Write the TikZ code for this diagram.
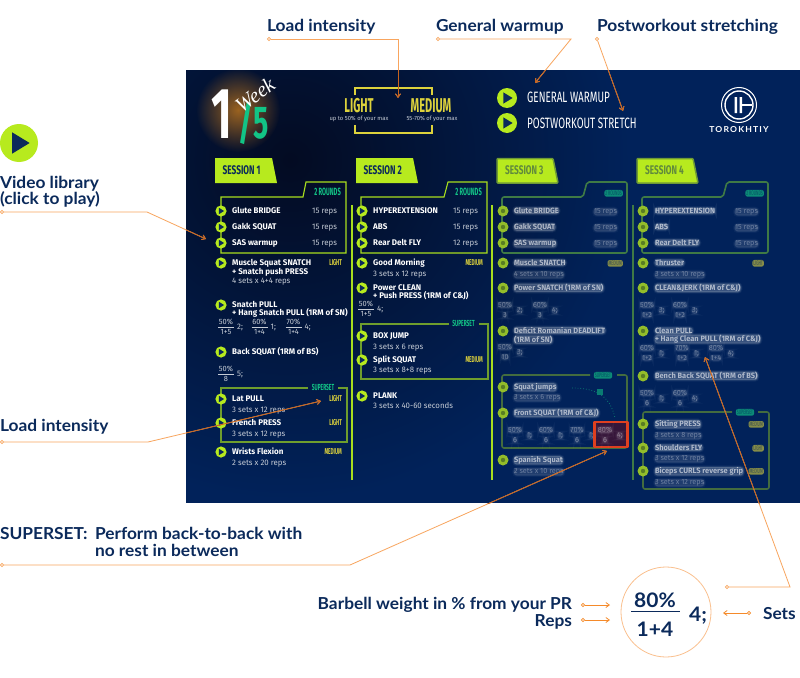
\documentclass[tikz,border=0pt]{standalone}
\usepackage{fontspec}
\setmainfont[FakeStretch=1.05]{Lato}
\newfontfamily\din[FakeStretch=0.98]{Fira Sans}
\newfontfamily\dinn[FakeStretch=0.66]{Fira Sans}
\newfontfamily\dinx[FakeStretch=0.55]{Fira Sans}
\newfontfamily\dinw[FakeStretch=0.62]{Fira Sans}
\newfontfamily\wk{Liberation Serif}
\usetikzlibrary{arrows.meta,fadings,calc}
\tikzfading[name=myglow,inner color=transparent!0,outer color=transparent!100]
\definecolor{navy}{HTML}{0B2A5B}
\definecolor{bgmain}{HTML}{01225A}
\definecolor{bgdark}{HTML}{030B22}
\definecolor{limeb}{HTML}{B7EA1E}
\definecolor{limel}{HTML}{A8DE1E}
\definecolor{oliveb}{HTML}{6F9E2D}
\definecolor{dimline}{HTML}{3F7A45}
\definecolor{dimbtn}{HTML}{93BD2A}
\definecolor{grn}{HTML}{12C486}
\definecolor{yel}{HTML}{DDD23C}
\definecolor{subt}{HTML}{C6CCD6}
\definecolor{orl}{HTML}{F8A55E}
\definecolor{ord}{HTML}{C8641E}
\definecolor{orb}{HTML}{F58A2A}
\definecolor{glowc}{HTML}{9A6220}
\newcommand\fsz[1]{\fontsize{#1}{#1}\selectfont}
\newcounter{nid}
\tikzset{
 lbl/.style={inner sep=0,outer sep=0,yshift=-4pt,text=navy,font=\fsz{16.5}\bfseries},
 lblb/.style={inner sep=0,outer sep=0,yshift=-2.5pt,text=navy,font=\fsz{20}\bfseries},
 tname/.style={inner sep=0,anchor=mid west,text=white,font=\din\fsz{8.2}\bfseries},
 tsub/.style={inner sep=0,anchor=mid west,text=subt,font=\din\fsz{8}},
 tload/.style={inner sep=0,anchor=mid east,text=yel,font=\dinx\fsz{8.5}\bfseries},
 tsup/.style={inner sep=0,anchor=mid,text=grn,font=\dinx\fsz{8.8}\bfseries},
 tfr/.style={inner sep=0,anchor=mid,text=subt,font=\din\fsz{7.6}},
 blurbase/.style={inner sep=.2pt,anchor=mid west,text=white,rounded corners=3pt},
 blur/.style={blurbase,preaction={draw=white,draw opacity=.05,line width=3.4pt},text opacity=.6,fill=white,fill opacity=.2,draw=white,draw opacity=.1,line width=1.6pt,font=\din\fsz{7.6}\bfseries},
 blursub/.style={blurbase,preaction={draw=white,draw opacity=.03,line width=3.4pt},text opacity=.35,fill=white,fill opacity=.12,draw=white,draw opacity=.06,line width=1.6pt,font=\din\fsz{7.4}},
 blurfr/.style={blursub,anchor=mid},
 chip/.style={inner sep=1pt,anchor=mid east,text=bgmain,rounded corners=2pt,text opacity=.6,font=\dinx\fsz{6.5}},
 rline/.style={limel,line width=1.1pt},
 sline/.style={oliveb,line width=1.1pt},
 dline/.style={dimline,line width=1.6pt,rounded corners=2pt,line join=round},
 conn/.style={line width=.8pt,-{Straight Barb[length=3.5pt,width=5pt]}},
 sdot/.style={circle,draw=orl,fill=white,line width=.7pt,inner sep=0,minimum size=3.4pt},
 sesst/.style={inner sep=0,anchor=mid west,text=navy,font=\dinn\fsz{12.5}\bfseries},
}
% play button
\newcommand\pb[3]{\stepcounter{nid}\node[circle,fill=limeb,inner sep=0,minimum size=#3*2pt] (pb\thenid) at (#1,#2) {};
 \fill[navy] ({#1-0.36*#3},{#2-0.56*#3}) -- ({#1+0.56*#3},{#2}) -- ({#1-0.36*#3},{#2+0.56*#3}) -- cycle;}
\newcommand\dpb[2]{\stepcounter{nid}\node[circle,fill=dimbtn,inner sep=0,minimum size=11pt] (pb\thenid) at (#1,#2) {};
 \fill[oliveb!80!black] (#1,#2) circle (2.2);}
\newcommand\tx[4]{\stepcounter{nid}\node[#1] (t\thenid) at (#2,#3) {#4};}
% sharp fraction
\newcommand\fr[5]{\stepcounter{nid}\node[tfr] (fa\thenid) at (#1,{#2-5}) {#3};\node[tfr] (fb\thenid) at (#1,{#2+5}) {#4};
 \draw[subt,line width=.5pt] ({#1-8},#2) -- ({#1+8},#2);
 \node[tfr,anchor=mid west,font=\din\fsz{8}] (fc\thenid) at ({#1+11},#2) {#5};}
% blurred fraction
\newcommand\bfr[5]{\stepcounter{nid}\node[blurfr] (fa\thenid) at (#1,{#2-5}) {#3};\node[blurfr] (fb\thenid) at (#1,{#2+5}) {#4};
 \node[blursub] (fc\thenid) at ({#1+11},#2) {#5};}
\newcommand\connset[1]{%
 \draw[conn,#1] (s1) -- (k1) -- (e1);
 \draw[conn,#1] (s2) -- (k2) -- (e2);
 \draw[conn,#1] (s3) -- (e3);
 \draw[conn,#1] (s4) -- (k4) -- (e4);
 \draw[conn,#1] (s5) -- (k5) -- (e5);
 \draw[conn,#1] (s6) -- (k6) -- (e6);
 \draw[conn,#1] (s7) -- (k7) -- (e7);}
\begin{document}
\begin{tikzpicture}[x=1pt,y=-1pt]
\useasboundingbox (0,0) rectangle (800,677);
\fill[white] (0,0) rectangle (800,677);
% image panel
\begin{scope}
 \clip (186,70) rectangle (800,503);
 \fill[bgmain] (186,70) rectangle (800,503);
 \shade[inner color=bgdark,outer color=bgmain] (290,160) circle (340);
 \fill[glowc,path fading=myglow] (238,110) ellipse (42 and 42);
\end{scope}
% week mark
\tx{inner sep=0,text=white,font=\dinw\fsz{72}\bfseries}{221.5}{114}{1}
\tx{inner sep=0,text=grn,font=\dinw\fsz{46}\bfseries}{245.5}{123}{/}
\tx{inner sep=0,text=grn,font=\dinw\fsz{46}\bfseries}{261.5}{123}{5}
\tx{inner sep=0,text=white,rotate=37,font=\wk\itshape\fsz{21}}{255}{95}{Week}
% load brackets
\draw[yel,line width=1.1pt] (355,95) -- (355,88) -- (432,88) -- (432,95);
\draw[yel,line width=1.1pt] (355,125) -- (355,133) -- (432,133) -- (432,125);
\tx{inner sep=0,text=yel,font=\dinx\fsz{20}\bfseries}{359}{106}{LIGHT}
\tx{inner sep=0,text=yel,font=\dinx\fsz{20}\bfseries}{431}{106}{MEDIUM}
\tx{inner sep=0,text=subt,font=\din\fsz{5.9}}{359}{119}{up to 50\% of your max}
\tx{inner sep=0,text=subt,font=\din\fsz{5.9}}{432}{119}{55-70\% of your max}
% warmup
\pb{507}{98}{10}\pb{507}{123}{10}
\tx{inner sep=0,yshift=-1.5pt,anchor=mid west,text=white,font=\dinn\fsz{15}}{527}{98}{GENERAL WARMUP}
\tx{inner sep=0,yshift=-1.5pt,anchor=mid west,text=white,font=\dinn\fsz{15}}{527}{124.5}{POSTWORKOUT STRETCH}
% logo
\node[circle,draw=white,line width=1pt,inner sep=0,minimum size=35pt] (logoa) at (739,105) {};
\node[circle,draw=white,line width=1.4pt,inner sep=0,minimum size=28pt] (logob) at (739,105) {};
\fill[white] (734.5,97) rectangle (737,113) (739.5,97) rectangle (742,113);
\fill[white] (742,104.2) rectangle (752,105.8);
\tx{inner sep=0,text=white,font=\fsz{8.2}\bfseries}{739}{130}{\addfontfeature{LetterSpace=14}TOROKHTIY}
% session banners
\foreach \x/\n in {215/1,356/2}{
 \fill[limeb] (\x,158) -- ({\x+57},158) -- ({\x+62},183) -- (\x,183) -- cycle;
 \tx{sesst}{\x+7.5}{171.5}{SESSION \n}}
\foreach \x/\n in {497/3,637/4}{
 \fill[limeb,draw=limeb!60!bgmain,line width=1.5pt,rounded corners=1pt] (\x,158.5) -- ({\x+56},158.5) -- ({\x+61},183) -- (\x,183) -- cycle;
 \tx{sesst,text opacity=.5}{\x+8}{171.5}{SESSION \n}}
% column rules
\draw[rline] (352,205) -- (352,480);
\draw[rline] (492,205) -- (492,480);
\draw[dline] (633,205) -- (633,480);
% rounds boxes
\draw[rline] (221,197) -- (303,197) -- (306,182) -- (346,182) -- (346,253) -- (221,253) -- cycle;
\draw[rline] (361,197) -- (444,197) -- (448,182) -- (487,182) -- (487,253) -- (361,253) -- cycle;
\draw[dline] (502,197) -- (583,197) -- (587,182) -- (627,182) -- (627,253) -- (502,253) -- cycle;
\draw[dline] (642,197) -- (723,197) -- (727,182) -- (768,182) -- (768,253) -- (642,253) -- cycle;
\tx{tsup,anchor=mid east,font=\dinx\fsz{10.5}\bfseries}{341}{193}{2 ROUNDS}
\tx{tsup,anchor=mid east,font=\dinx\fsz{10.5}\bfseries}{482}{193}{2 ROUNDS}
\tx{chip,fill=grn!65!bgmain}{623}{193}{2 ROUNDS}
\tx{chip,fill=grn!65!bgmain}{764}{193}{2 ROUNDS}
% superset boxes
\draw[sline] (308,388) -- (221,388) -- (221,442) -- (347,442) -- (347,388) -- (338,388);
\tx{tsup}{323}{388}{SUPERSET}
\draw[sline] (449,324) -- (361,324) -- (361,379) -- (488,379) -- (488,324) -- (479,324);
\tx{tsup}{463.5}{324}{SUPERSET}
\draw[dline,oliveb!60!bgmain] (590,375) -- (502,375) -- (502,448) -- (627,448) -- (627,375) -- (617,375);
\tx{chip,fill=grn!65!bgmain,anchor=mid}{603}{375}{SUPERSET}
\draw[dline,oliveb!60!bgmain] (732,412) -- (643,412) -- (643,489) -- (769,489) -- (769,412) -- (758,412);
\tx{chip,fill=grn!65!bgmain,anchor=mid}{745}{412}{SUPERSET}
% session 1
\foreach \y in {211,227,243,263,305,352,399,423,452}{\pb{221}{\y}{5.6}}
\tx{tname}{232}{211}{Glute BRIDGE}\tx{tsub}{312}{211}{15 reps}
\tx{tname}{232}{227}{Gakk SQUAT}\tx{tsub}{312}{227}{15 reps}
\tx{tname}{232}{243}{SAS warmup}\tx{tsub}{312}{243}{15 reps}
\tx{tname}{232}{263}{Muscle Squat SNATCH}\tx{tload}{342}{263}{LIGHT}
\tx{tname}{232}{272}{+ Snatch push PRESS}
\tx{tsub}{232}{281}{4 sets x 4+4 reps}
\tx{tname}{232}{305}{Snatch PULL}
\tx{tname}{232}{313}{+ Hang Snatch PULL (1RM of SN)}
\fr{226}{327}{50\%}{1+5}{2;}
\fr{259.5}{327}{60\%}{1+4}{1;}
\fr{293.5}{327}{70\%}{1+4}{4;}
\tx{tname}{232}{352}{Back SQUAT (1RM of BS)}
\fr{226}{374}{50\%}{8}{5;}
\tx{tname}{232}{399}{Lat PULL}\tx{tload}{342}{399}{LIGHT}
\tx{tsub}{232}{410}{3 sets x 12 reps}
\tx{tname}{232}{423}{French PRESS}\tx{tload}{342}{423}{LIGHT}
\tx{tsub}{232}{434}{3 sets x 12 reps}
\tx{tname}{232}{452}{Wrists Flexion}\tx{tload}{342}{452}{MEDIUM}
\tx{tsub}{232}{463}{2 sets x 20 reps}
% session 2
\foreach \y in {211,227,243,263,288,336,360,396}{\pb{362}{\y}{5.6}}
\tx{tname}{373}{211}{HYPEREXTENSION}\tx{tsub}{453}{211}{15 reps}
\tx{tname}{373}{227}{ABS}\tx{tsub}{453}{227}{15 reps}
\tx{tname}{373}{243}{Rear Delt FLY}\tx{tsub}{453}{243}{12 reps}
\tx{tname}{373}{263}{Good Morning}\tx{tload}{483}{263}{MEDIUM}
\tx{tsub}{373}{274}{3 sets x 12 reps}
\tx{tname}{373}{288}{Power CLEAN}
\tx{tname}{373}{296}{+ Push PRESS (1RM of C\&J)}
\fr{366}{309}{50\%}{1+5}{4;}
\tx{tname}{373}{336}{BOX JUMP}
\tx{tsub}{373}{347}{3 sets x 6 reps}
\tx{tname}{373}{360}{Split SQUAT}\tx{tload}{483}{360}{MEDIUM}
\tx{tsub}{373}{370}{3 sets x 8+8 reps}
\tx{tname}{373}{396}{PLANK}
\tx{tsub}{373}{406}{3 sets x 40-60 seconds}
% session 3 (blurred)
\foreach \y in {211,227,243,263,288,331,387,413,460}{\dpb{503}{\y}}
\tx{blur}{513}{211}{Glute BRIDGE}\tx{blursub}{593}{211}{15 reps}
\tx{blur}{513}{227}{Gakk SQUAT}\tx{blursub}{593}{227}{15 reps}
\tx{blur}{513}{243}{SAS warmup}\tx{blursub}{593}{243}{15 reps}
\tx{blur}{513}{263}{Muscle SNATCH}\tx{chip,fill=yel!60!bgmain}{623}{263}{MEDIUM}
\tx{blursub}{513}{274}{4 sets x 10 reps}
\tx{blur}{513}{288}{Power SNATCH (1RM of SN)}
\bfr{505}{310}{50\%}{3}{2;}
\bfr{540}{310}{60\%}{3}{4;}
\tx{blur}{513}{331}{Deficit Romanian DEADLIFT}
\tx{blur}{513}{340}{(1RM of SN)}
\bfr{505}{352}{50\%}{10}{3;}
\tx{blur}{513}{387}{Squat jumps}
\tx{blursub}{513}{397}{3 sets x 6 reps}
\tx{blur}{513}{413}{Front SQUAT (1RM of C\&J)}
\bfr{515}{435}{50\%}{6}{1;}
\bfr{546}{435}{60\%}{6}{1;}
\bfr{577}{435}{70\%}{6}{1;}
\tx{blur}{513}{460}{Spanish Squat}
\tx{blursub}{513}{471}{2 sets x 10 reps}
% red highlight and curve
\fill[red!60!black,fill opacity=.35] (594,421) rectangle (628,447);
\draw[red!50!brown,line width=2.6pt,line join=round] (594.5,422) rectangle (627.5,447);
\bfr{605}{435}{80\%}{6}{4;}
\draw[grn!55!bgmain,line width=.8pt,dotted] (572,388) .. controls (595,388) and (610,395) .. (615,418);
\fill[grn!55!bgmain] (597,389) rectangle (603,395);
% session 4 (blurred)
\foreach \y in {211,227,243,263,288,331,376,424,448,471}{\dpb{643}{\y}}
\tx{blur}{654}{211}{HYPEREXTENSION}\tx{blursub}{734}{211}{15 reps}
\tx{blur}{654}{227}{ABS}\tx{blursub}{734}{227}{15 reps}
\tx{blur}{654}{243}{Rear Delt FLY}\tx{blursub}{734}{243}{15 reps}
\tx{blur}{654}{263}{Thruster}\tx{chip,fill=yel!60!bgmain}{764}{263}{LIGHT}
\tx{blursub}{654}{274}{3 sets x 10 reps}
\tx{blur}{654}{288}{CLEAN\&JERK (1RM of C\&J)}
\bfr{647}{310}{50\%}{1+2}{3;}
\bfr{680}{310}{60\%}{1+2}{3;}
\tx{blur}{654}{331}{Clean PULL}
\tx{blur}{654}{339}{+ Hang Clean PULL (1RM of C\&J)}
\bfr{647}{353}{60\%}{1+2}{1;}
\bfr{682}{353}{70\%}{1+2}{1;}
\bfr{716}{353}{80\%}{1+4}{4;}
\tx{blur}{654}{376}{Bench Back SQUAT (1RM of BS)}
\bfr{647}{398}{50\%}{6}{1;}
\bfr{680}{398}{60\%}{6}{4;}
\tx{blur}{654}{424}{Sitting PRESS}\tx{chip,fill=yel!60!bgmain}{764}{424}{MEDIUM}
\tx{blursub}{654}{435}{3 sets x 8 reps}
\tx{blur}{654}{448}{Shoulders FLY}\tx{chip,fill=yel!60!bgmain}{764}{448}{LIGHT}
\tx{blursub}{654}{458}{3 sets x 12 reps}
\tx{blur}{654}{471}{Biceps CURLS reverse grip}\tx{chip,fill=yel!60!bgmain}{764}{471}{MEDIUM}
\tx{blursub}{654}{482}{3 sets x 12 reps}
% outer labels
\tx{lbl,anchor=mid west}{267}{25}{Load intensity}
\tx{lbl,anchor=mid west}{436}{25}{General warmup}
\tx{lbl,anchor=mid west}{597}{25}{Postworkout stretching}
\pb{19}{143}{19}
\tx{lbl,anchor=mid west}{0}{182}{Video library}
\tx{lbl,anchor=mid west}{0}{198}{(click to play)}
\tx{lbl,anchor=mid west}{0}{425}{Load intensity}
\tx{lbl,anchor=mid west}{0}{533}{SUPERSET:}
\tx{lbl,anchor=mid west}{95}{533}{Perform back-to-back with}
\tx{lbl,anchor=mid west}{95}{550}{no rest in between}
\tx{lbl,anchor=mid east}{572}{603}{Barbell weight in \% from your PR}
\tx{lbl,anchor=mid east}{572}{620}{Reps}
\tx{lbl,anchor=mid west}{763}{613}{Sets}
% zoom circle
\node[circle,draw=orl!70!white,line width=.8pt,inner sep=0,minimum size=90pt] (zoomc) at (666,612) {};
\tx{lblb}{655}{598}{80\%}
\tx{lblb}{655}{627}{1+4}
\draw[navy,line width=.8pt] (631,611) -- (680,611);
\tx{lblb}{698}{613}{4;}
% connector ends
\node[sdot] (s1) at (269,39) {};\coordinate (k1) at (398,39);\coordinate (e1) at (398,98);
\node[sdot] (s2) at (438,39) {};\coordinate (k2) at (571,39);\coordinate (e2) at (535,83);
\node[sdot] (s3) at (597,39) {};\coordinate (e3) at (623,111);
\node[sdot] (s4) at (2,212) {};\coordinate (k4) at (147,212);\coordinate (e4) at (206,239);
\node[sdot] (s5) at (2,442) {};\coordinate (k5) at (148,442);\coordinate (e5) at (321,401);
\node[sdot] (s6) at (2,565) {};\coordinate (k6) at (350,565);\coordinate (e6) at (607,451);
\node[sdot] (s7) at (727,587) {};\coordinate (k7) at (790,587);\coordinate (e7) at (705,357);
\connset{orl}
\begin{scope}
 \clip (186,70) rectangle (800,503);
 \connset{ord}
\end{scope}
% small arrows at the zoom circle
\node[sdot,draw=orb] (s8) at (583,605) {};\coordinate (e8) at (610,605);
\node[sdot,draw=orb] (s9) at (583,620) {};\coordinate (e9) at (610,620);
\node[sdot,draw=orb] (s10) at (749,613) {};\coordinate (e10) at (723,613);
\draw[conn,orb] (s8) -- (e8);
\draw[conn,orb] (s9) -- (e9);
\draw[conn,orb] (s10) -- (e10);
\end{tikzpicture}
\end{document}
